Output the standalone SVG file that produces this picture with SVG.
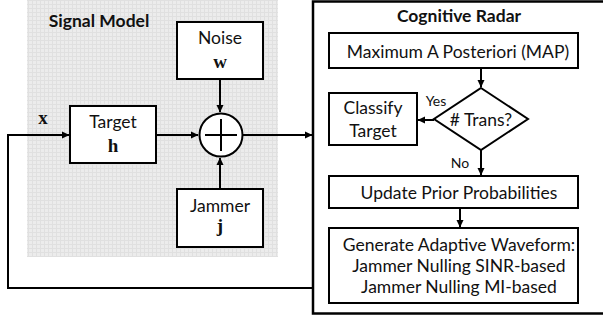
<svg xmlns="http://www.w3.org/2000/svg" width="603" height="322" viewBox="0 0 603 322">
<defs>
<pattern id="grid" width="4" height="4" patternUnits="userSpaceOnUse">
<rect width="4" height="4" fill="#ececec"/>
<path d="M0 0.5H4M0.5 0V4" stroke="#e0e0e0" stroke-width="1"/>
</pattern>
<marker id="ah" markerWidth="8" markerHeight="8" refX="7" refY="4" orient="auto" markerUnits="userSpaceOnUse">
<path d="M0 0.5L7.5 4L0 7.5Z" fill="#000"/>
</marker>
<style>
.box{fill:#fff;stroke:#000;stroke-width:2}
.t{font-family:Lato,"Open Sans",sans-serif;font-size:17.5px;fill:#111;text-anchor:middle}
.b{font-weight:bold}
.m{font-family:"Liberation Serif","DejaVu Serif",serif;font-weight:bold;font-size:19px;fill:#111;text-anchor:middle}
.c{fill:none;stroke:#000;stroke-width:2}
</style>
</defs>
<rect x="27" y="0" width="251" height="257" fill="url(#grid)"/>
<text class="t b" x="99" y="27">Signal Model</text>
<g id="radar">
<rect x="313" y="1.5" width="300" height="312" fill="#fff" stroke="#000" stroke-width="2.5"/>
<text class="t b" x="459" y="22">Cognitive Radar</text>
</g>
<g id="noise"><rect class="box" x="177" y="22" width="86" height="57"/><text class="t" x="220" y="44">Noise</text><text class="m" x="220" y="68">w</text></g>
<g id="target"><rect class="box" x="70" y="106" width="86" height="57"/><text class="t" x="113" y="128">Target</text><text class="m" x="113" y="152">h</text></g>
<g id="jammer"><rect class="box" x="177" y="189" width="86" height="58"/><text class="t" x="220" y="212">Jammer</text><text class="m" x="220" y="232">j</text></g>
<g id="sum"><circle cx="221" cy="135" r="21.5" fill="#fff" stroke="#000" stroke-width="2"/><path d="M221 119V151M205 135H237" stroke="#000" stroke-width="2"/></g>
<g id="map"><rect class="box" x="329" y="33" width="249" height="35"/><text class="t" x="458" y="58">Maximum A Posteriori (MAP)</text></g>
<g id="trans"><path class="box" d="M481 88L528 119L481 150L434 119Z"/><text class="t" x="481" y="126"># Trans?</text></g>
<g id="classify"><rect class="box" x="329" y="93" width="88" height="52"/><text class="t" x="373" y="114">Classify</text><text class="t" x="373" y="137">Target</text></g>
<g id="update"><rect class="box" x="329" y="176" width="249" height="32"/><text class="t" x="459" y="199">Update Prior Probabilities</text></g>
<g id="generate"><rect class="box" x="329" y="228" width="249" height="75"/><text class="t" x="459" y="251">Generate Adaptive Waveform:</text><text class="t" x="459" y="272">Jammer Nulling SINR-based</text><text class="t" x="459" y="293">Jammer Nulling MI-based</text></g>
<g id="connectors">
<path class="c" d="M313 288H8V135H69" marker-end="url(#ah)"/>
<text class="m" x="43" y="124">x</text>
<path class="c" d="M156 135H198" marker-end="url(#ah)"/>
<path class="c" d="M220 79V112" marker-end="url(#ah)"/>
<path class="c" d="M220 189V158" marker-end="url(#ah)"/>
<path class="c" d="M243 135H312" marker-end="url(#ah)"/>
<path class="c" d="M481 68V87" marker-end="url(#ah)"/>
<path class="c" d="M434 120H418" marker-end="url(#ah)"/>
<path class="c" d="M481 150V175" marker-end="url(#ah)"/>
<path class="c" d="M460 208V227" marker-end="url(#ah)"/>
<text class="t" x="436" y="106" style="font-size:14px">Yes</text>
<text class="t" x="460" y="168" style="font-size:14px">No</text>
</g>
</svg>
